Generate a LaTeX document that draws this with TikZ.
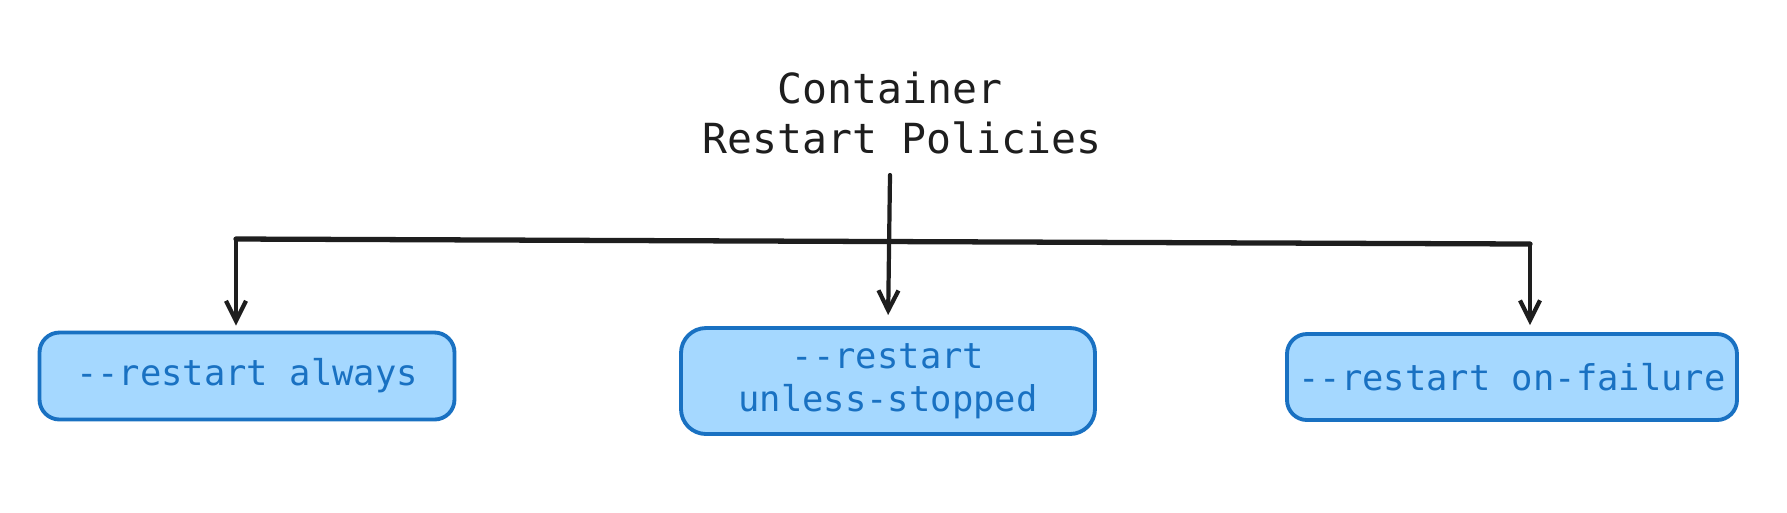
\documentclass[tikz,border=0pt]{standalone}
\usepackage{fontspec}
\newfontfamily\codefont{DejaVu Sans Mono}
\usetikzlibrary{arrows.meta}
\definecolor{boxfill}{HTML}{A5D8FF}
\definecolor{boxline}{HTML}{1971C2}
\definecolor{ink}{HTML}{1E1E1E}

\begin{document}
\begin{tikzpicture}[x=0.1mm, y=-0.1mm]
    \tikzset{policy/.style = {shape=rectangle, rounded corners=2mm, draw=boxline, fill=boxfill, line width=1.1pt, text=boxline, font=\codefont\fontsize{10.1}{12.2}\selectfont, align=center, inner sep=0pt}}
    \tikzset{heading/.style = {text=ink, font=\codefont\fontsize{11.8}{14.2}\selectfont, inner sep=0pt}}
    \tikzset{edge/.style = {draw=ink, line width=1.2pt, line cap=round, -{Straight Barb[length=2mm,width=2mm]}, shorten >=0.5mm}}
    \useasboundingbox (0,0) rectangle (1787,512);

    % title
    \node[heading, anchor=base] (cont) at (890,103) {Container};
    \node[heading, anchor=base] (rest) at (902,153) {Restart Policies};
    \coordinate (top) at (890,175);

    % policies
    \node[policy, minimum width=4.15cm, minimum height=0.87cm] (always) at (247,376) {-{}-restart always};
    \node[policy, minimum width=4.14cm, minimum height=1.06cm, rounded corners=2.5mm] (unless) at (888,381) {-{}-restart\\unless-stopped};
    \node[policy, minimum width=4.50cm, minimum height=0.86cm] (failure) at (1512,377) {-{}-restart on-failure};

    % branches
    \coordinate (bl) at (236,239);
    \coordinate (br) at (1530,244);
    \draw[ink, line width=1.5pt, line cap=round] (bl) -- (br);
    \draw[edge] (bl) -- (bl |- always.north);
    \draw[edge, shorten >=0.7mm] (br) -- (br |- failure.north);
    \draw[edge, shorten >=1.1mm] (top) -- (unless.north);
\end{tikzpicture}
\end{document}
